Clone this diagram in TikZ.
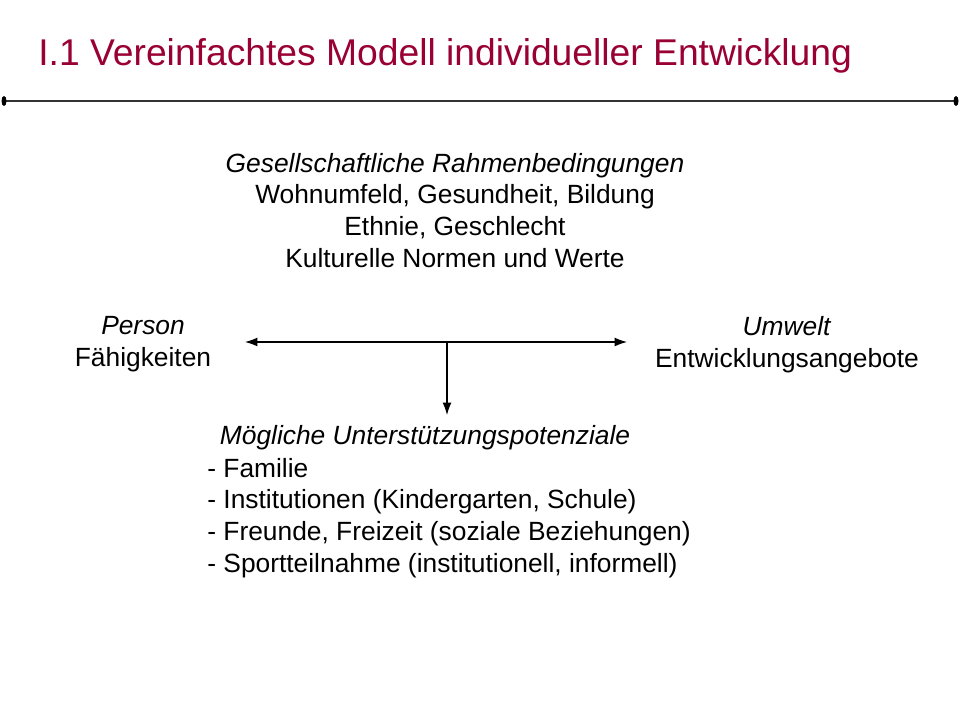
\documentclass[tikz,border=0pt]{standalone}
\usepackage{fontspec}
\setmainfont{Liberation Sans}
\usetikzlibrary{arrows.meta}
\definecolor{titlered}{RGB}{153,0,51}
\begin{document}
\begin{tikzpicture}[x=0.02cm,y=-0.02cm,
  txt/.style={font=\fontsize{15}{18}\selectfont,inner sep=0pt,align=center},
  arr/.style={-{Latex[length=7pt,width=5pt]},line width=0.6pt}]
\useasboundingbox (0,0) rectangle (960,720);
\node[anchor=base west,text=titlered,font=\fontsize{21.2}{24}\selectfont,inner sep=0pt] (title) at (38,65) {I.1 Vereinfachtes Modell individueller Entwicklung};
\coordinate (l1) at (4,101); \coordinate (l2) at (956,101);
\draw[line width=1.4pt,color=black!80] (l1) -- (l2);
\fill (l1) ellipse (2.5 and 5); \fill (l2) ellipse (2.5 and 5);
\node[txt,anchor=base] (g) at (455,267) {\textit{Gesellschaftliche Rahmenbedingungen}\\Wohnumfeld, Gesundheit, Bildung\\Ethnie, Geschlecht\\Kulturelle Normen und Werte};
\node[txt,anchor=base] (p) at (143,366) {\textit{Person}\\Fähigkeiten};
\node[txt,anchor=base] (u) at (787,367) {\textit{Umwelt}\\Entwicklungsangebote};
\coordinate (al) at (245,342); \coordinate (ar) at (627,342); \coordinate (am) at (447,342); \coordinate (ad) at (447,415);
\draw[arr,{Latex[length=7pt,width=5pt]}-{Latex[length=7pt,width=5pt]}] (al) -- (ar);
\draw[arr] (am) -- (ad);
\node[txt,anchor=base] (m) at (425,444) {\textit{Mögliche Unterstützungspotenziale}};
\node[txt,anchor=base west,align=left] (list) at (207,572) {- Familie\\- Institutionen (Kindergarten, Schule)\\- Freunde, Freizeit (soziale Beziehungen)\\- Sportteilnahme (institutionell, informell)};
\end{tikzpicture}
\end{document}
